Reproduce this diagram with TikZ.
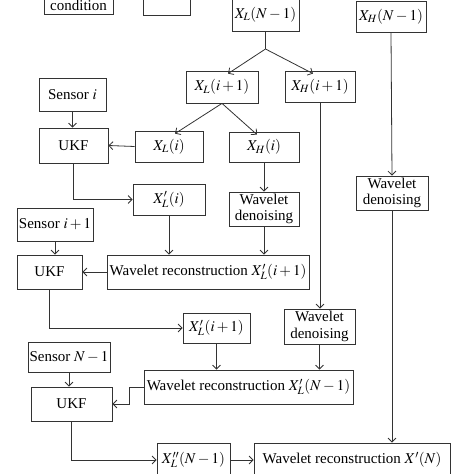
\documentclass[tikz,border=0pt]{standalone}
\usepackage{mathptmx}
\usepackage[no-math]{fontspec}
\setmainfont{Liberation Serif}
\usetikzlibrary{arrows.meta,calc,positioning}

\begin{document}
\begin{tikzpicture}[x=1pt,y=-1pt,
every node/.style={draw=black!80,line width=.8pt,rectangle,inner sep=0pt,
font=\fontsize{15}{16.5}\selectfont,align=center},
arr/.style={draw=black!80,line width=.8pt,-{Straight Barb[length=4pt,width=8pt]}},
ln/.style={draw=black!80,line width=.8pt}]
\useasboundingbox (0,0) rectangle (474,474);
\clip (0,0) rectangle (474,474);
% top row (cut by the frame)
\node[minimum width=69pt,text height=30pt,text depth=4pt,anchor=base] (Cond) at (78.5,10.5) {condition};
\node[minimum width=47pt,minimum height=40pt,anchor=south] (Box0) at (166.5,16) {};
\node[minimum width=67pt,minimum height=33pt] (XLN) at (265.5,14.5) {$X_L(N-1)$};
\node[minimum width=70pt,minimum height=31pt] (XHN) at (391,16.5) {$X_H(N-1)$};
% sensor i
\node[minimum width=72pt,minimum height=32pt] (XLi1) at (222,87) {$X_L(i+1)$};
\node[minimum width=70pt,minimum height=31pt] (XHi1) at (320,86.5) {$X_H(i+1)$};
\node[minimum width=67pt,minimum height=33pt] (SensI) at (72.5,94.5) {Sensor $i$};
\node[minimum width=69pt,minimum height=35pt] (UKF1) at (73.5,145.5) {UKF};
\node[minimum width=68pt,minimum height=31pt] (XLi) at (169,146.5) {$X_L(i)$};
\node[minimum width=70pt,minimum height=30pt] (XHi) at (264,147) {$X_H(i)$};
\node[minimum width=72pt,minimum height=31pt] (XLpi) at (169,199.5) {$X'_L(i)$};
\node[minimum width=70pt,minimum height=34pt] (WD1) at (264,209) {Wavelet\\denoising};
\node[minimum width=72pt,minimum height=34pt] (WD3) at (392,193) {Wavelet\\denoising};
% sensor i+1
\node[minimum width=76pt,minimum height=33pt] (SensI1) at (55,224.5) {Sensor $i+1$};
\node[minimum width=65pt,minimum height=34pt] (UKF2) at (49.5,272) {UKF};
\node[minimum width=202pt,minimum height=34pt] (WR1) at (208,272) {Wavelet reconstruction $X'_L(i+1)$};
\node[minimum width=67pt,minimum height=30pt] (XLpi1) at (216.5,328) {$X'_L(i+1)$};
\node[minimum width=71pt,minimum height=35pt] (WD2) at (319.5,326.5) {Wavelet\\denoising};
% sensor N-1
\node[minimum width=82pt,minimum height=30pt] (SensN) at (69,357) {Sensor $N-1$};
\node[minimum width=209pt,minimum height=34pt] (WR2) at (248.5,387) {Wavelet reconstruction $X'_L(N-1)$};
\node[minimum width=81pt,minimum height=34pt] (UKF3) at (71.5,404) {UKF};
\node[minimum width=73pt,minimum height=34pt] (XLppN) at (193.5,460) {$X''_L(N-1)$};
\node[minimum width=196pt,minimum height=34pt] (WR3) at (352,460) {Wavelet reconstruction $X'(N)$};
\coordinate (j1) at (265.5,49);
% connectors
\draw[ln] (XLN.south) -- (j1);
\draw[arr] (j1) -- ([xshift=6pt,yshift=-3pt]XLi1.north);
\draw[arr] (j1) -- ([xshift=-7pt,yshift=-3pt]XHi1.north);
\draw[arr] (XLi1.south) -- ([xshift=6pt,yshift=-3pt]XLi.north);
\draw[arr] (XLi1.south) -- ([xshift=-7pt,yshift=-3pt]XHi.north);
\draw[arr] (SensI.south) -- (SensI.south |- UKF1.north);
\draw[arr] (XLi.west) -- (UKF1.east);
\draw[arr] (UKF1.south) |- (XLpi.west);
\draw[arr] (XHi.south) -- (WD1.north);
\draw[arr] (XHN.south) -- (WD3.north);
\draw[arr] (XHi1.south) -- (XHi1.south |- WD2.north);
\draw[arr] (SensI1.south) -- (SensI1.south |- UKF2.north);
\draw[arr] (XLpi.south) -- (XLpi.south |- WR1.north);
\draw[arr] (WD1.south) -- (WD1.south |- WR1.north);
\draw[arr] (WR1.west) -- (UKF2.east);
\draw[arr] (UKF2.south) |- (XLpi1.west);
\draw[arr] (SensN.south) -- (SensN.south |- UKF3.north);
\draw[arr] (XLpi1.south) -- (XLpi1.south |- WR2.north);
\draw[arr] (WD2.south) -- (WD2.south |- WR2.north);
\draw[arr] (WR2.west) -- ++(-14,0) |- (UKF3.east);
\draw[arr] (UKF3.south) |- (XLppN.west);
\draw[arr] (XLppN.east) -- (WR3.west);
\draw[arr] (WD3.south) -- (WD3.south |- WR3.north);
\end{tikzpicture}
\end{document}
